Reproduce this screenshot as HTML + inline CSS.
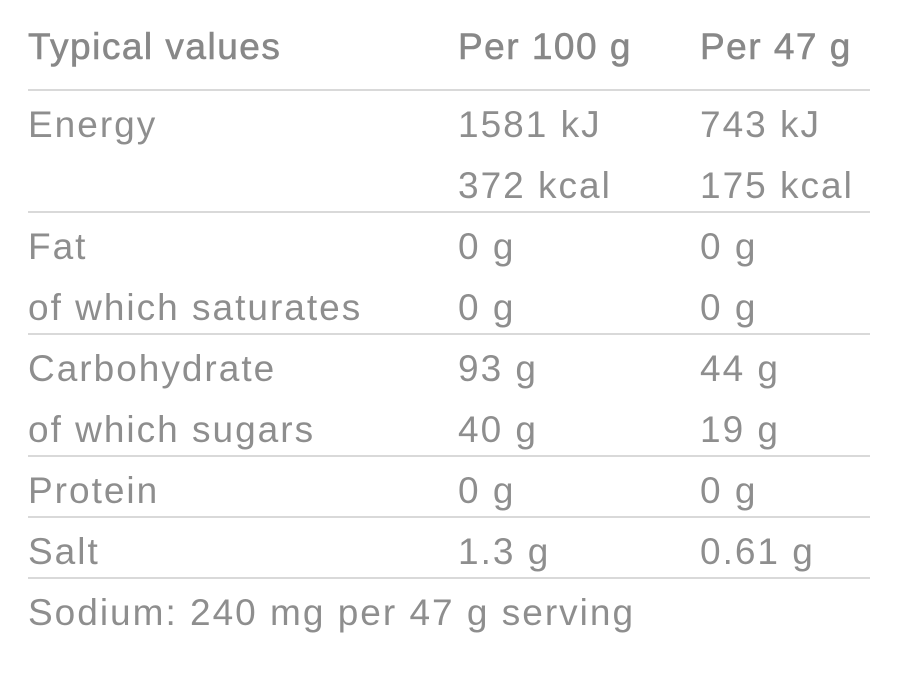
<!DOCTYPE html>
<html><head><style>
body{margin:0;width:900px;height:700px;background:#fff;position:relative;overflow:hidden;font-family:"Liberation Sans",sans-serif;color:#8e8e8e;}
.t{position:absolute;font-size:37px;line-height:61px;white-space:nowrap;letter-spacing:2px;}
.h{color:#888;font-weight:normal;-webkit-text-stroke:0.6px #888;letter-spacing:1.5px;}
.l{position:absolute;left:28px;width:842px;height:2px;background:#d9d9d9;}
</style></head><body>
<div class="t h" style="left:28px;top:16px">Typical values</div>
<div class="t h" style="left:458px;top:16px">Per 100 g</div>
<div class="t h" style="left:700px;top:16px">Per 47 g</div>
<div class="l" style="top:89px"></div>
<div class="t" style="left:28px;top:94px">Energy</div>
<div class="t" style="left:458px;top:94px">1581 kJ</div>
<div class="t" style="left:700px;top:94px">743 kJ</div>
<div class="t" style="left:458px;top:155px">372 kcal</div>
<div class="t" style="left:700px;top:155px">175 kcal</div>
<div class="l" style="top:211px"></div>
<div class="t" style="left:28px;top:216px">Fat</div>
<div class="t" style="left:458px;top:216px">0 g</div>
<div class="t" style="left:700px;top:216px">0 g</div>
<div class="t" style="left:28px;top:277px">of which saturates</div>
<div class="t" style="left:458px;top:277px">0 g</div>
<div class="t" style="left:700px;top:277px">0 g</div>
<div class="l" style="top:333px"></div>
<div class="t" style="left:28px;top:338px">Carbohydrate</div>
<div class="t" style="left:458px;top:338px">93 g</div>
<div class="t" style="left:700px;top:338px">44 g</div>
<div class="t" style="left:28px;top:399px">of which sugars</div>
<div class="t" style="left:458px;top:399px">40 g</div>
<div class="t" style="left:700px;top:399px">19 g</div>
<div class="l" style="top:455px"></div>
<div class="t" style="left:28px;top:460px">Protein</div>
<div class="t" style="left:458px;top:460px">0 g</div>
<div class="t" style="left:700px;top:460px">0 g</div>
<div class="l" style="top:516px"></div>
<div class="t" style="left:28px;top:521px">Salt</div>
<div class="t" style="left:458px;top:521px">1.3 g</div>
<div class="t" style="left:700px;top:521px">0.61 g</div>
<div class="l" style="top:577px"></div>
<div class="t" style="left:28px;top:582px">Sodium: 240 mg per 47 g serving</div>
</body></html>
